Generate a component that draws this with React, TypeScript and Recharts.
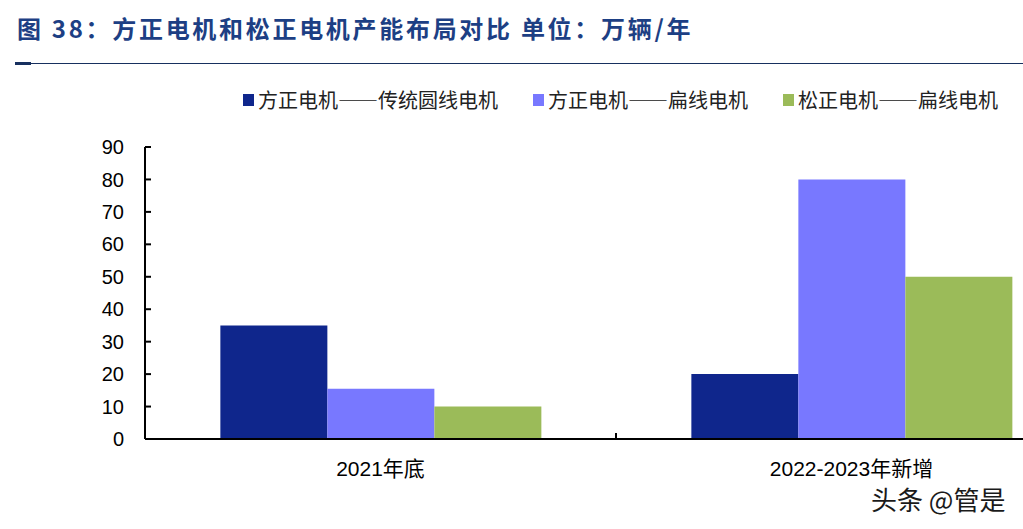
import React from 'react';
import { BarChart, Bar, XAxis, YAxis, Legend } from 'recharts';

const categories = ['2021年底', '2022-2023年新增'];
const fzRoundWire = [35, 20];
const fzFlatWire = [15.5, 80];
const szFlatWire = [10, 50];
const seriesNames = ['方正电机——传统圆线电机', '方正电机——扁线电机', '松正电机——扁线电机'];
const seriesColors = ['#0F268C', '#7878FF', '#9BBB59'];
const yTicks = [0, 10, 20, 30, 40, 50, 60, 70, 80, 90];
const titleText = '图 38：方正电机和松正电机产能布局对比 单位：万辆/年';
const watermark = '头条 @管是';

const data = categories.map((c, i) => ({
  name: c,
  a: fzRoundWire[i],
  b: fzFlatWire[i],
  c: szFlatWire[i],
}));

const LATIN = "'Liberation Sans', Arial, 'Noto Sans CJK SC', sans-serif";
const CJK = "'Noto Sans CJK SC', 'Noto Sans', sans-serif";
const X_TICK_MARGIN = 22;

function XTick(props: any) {
  const { x, y, payload } = props;
  const axisY = y - X_TICK_MARGIN;
  const half = payload.offset || 0;
  const last = payload.index === categories.length - 1;
  return (
    <g>
      <line x1={x - half} x2={x - half} y1={axisY} y2={axisY - 6} stroke="#000" strokeWidth={2} />
      {last && <line x1={x + half} x2={x + half} y1={axisY} y2={axisY - 6} stroke="#000" strokeWidth={2} />}
      <text x={x} y={y} dy="0.71em" textAnchor="middle" fill="#000" fontSize={21} fontFamily={LATIN}>
        {payload.value}
      </text>
    </g>
  );
}

function LegendContent(props: any) {
  const { payload } = props;
  return (
    <div style={{ display: 'flex', alignItems: 'center', whiteSpace: 'nowrap' }}>
      {(payload || []).map((p: any, i: number) => (
        <div key={i} style={{ display: 'flex', alignItems: 'center', marginRight: 35 }}>
          <span style={{ display: 'inline-block', width: 11, height: 12, background: p.color, marginRight: 4 }} />
          <span
            style={{
              fontFamily: CJK,
              fontSize: 20,
              color: '#222',
              lineHeight: '24px',
              fontFeatureSettings: '"fwid" 1',
            }}
          >
            {p.value}
          </span>
        </div>
      ))}
    </div>
  );
}

export default function App() {
  return (
    <div style={{ position: 'fixed', left: 0, top: 0, width: 1023, height: 529, overflow: 'hidden', background: '#fff' }}>
      <div
        style={{
          position: 'absolute',
          left: 17,
          top: 12,
          fontFamily: CJK,
          fontWeight: 700,
          fontSize: 24,
          letterSpacing: 2.7,
          color: '#1D3F84',
          whiteSpace: 'nowrap',
          lineHeight: '32px',
        }}
      >
        {titleText}
      </div>
      <div style={{ position: 'absolute', left: 15, top: 63, width: 1010, height: 1, background: '#17305F' }} />
      <div style={{ position: 'absolute', left: 15, top: 62, width: 16, height: 3, background: '#17305F' }} />
      <div style={{ position: 'absolute', left: 0, top: 0 }}>
        <BarChart
          width={1100}
          height={529}
          data={data}
          margin={{ top: 147, right: 13, bottom: 50, left: 0 }}
          barCategoryGap="16%"
          barGap={0}
        >
          <XAxis
            dataKey="name"
            height={40}
            tickLine={false}
            tickSize={0}
            tickMargin={X_TICK_MARGIN}
            axisLine={{ stroke: '#000', strokeWidth: 2 }}
            tick={<XTick />}
            interval={0}
          />
          <YAxis
            width={145}
            domain={[0, 90]}
            ticks={yTicks}
            interval={0}
            tickSize={-6}
            tickMargin={27}
            axisLine={{ stroke: '#000', strokeWidth: 2 }}
            tickLine={{ stroke: '#000', strokeWidth: 2 }}
            tick={{ fill: '#000', fontSize: 20, fontFamily: LATIN }}
          />
          <Legend
            layout="horizontal"
            verticalAlign="middle"
            align="center"
            content={<LegendContent />}
            wrapperStyle={{ top: 88, left: 243, width: 'auto' }}
          />
          <Bar dataKey="a" name={seriesNames[0]} fill={seriesColors[0]} legendType="square" isAnimationActive={false} />
          <Bar dataKey="b" name={seriesNames[1]} fill={seriesColors[1]} legendType="square" isAnimationActive={false} />
          <Bar dataKey="c" name={seriesNames[2]} fill={seriesColors[2]} legendType="square" isAnimationActive={false} />
        </BarChart>
      </div>
      <div
        style={{
          position: 'absolute',
          left: 871,
          top: 482,
          fontFamily: CJK,
          fontSize: 26,
          color: '#1a1a1a',
          whiteSpace: 'nowrap',
          lineHeight: '34px',
        }}
      >
        {watermark}
      </div>
    </div>
  );
}
